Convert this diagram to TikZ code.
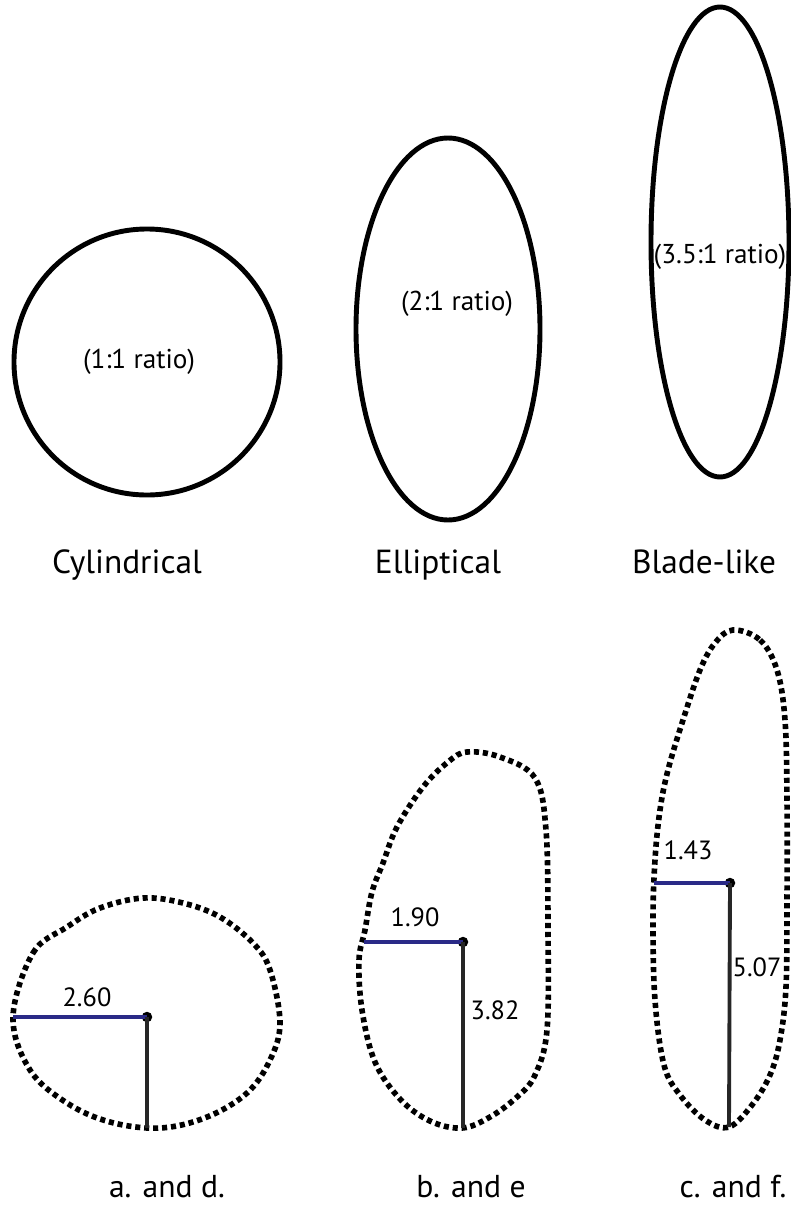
\documentclass[tikz,border=0pt]{standalone}
\usepackage{fontspec}
\setmainfont{PT Sans}
\usepackage{xcolor}
\usetikzlibrary{arrows.meta,calc}

\definecolor{radblue}{RGB}{42,42,135}
\tikzset{
  outline/.style={line width=2.8pt},
  dotline/.style={line width=3.2pt, dash pattern=on 2.9pt off 2.2pt},
  radius line/.style={radblue, line width=2pt},
  axis line/.style={black!85, line width=2.2pt},
  centre/.style={circle, fill=black, inner sep=0pt, minimum size=2.1mm},
  ratio/.style={font=\fontsize{15.5}{18}\selectfont, inner sep=1pt},
  shape name/.style={font=\fontsize{19}{22}\selectfont, anchor=base},
  case name/.style={font=\fontsize{18}{21}\selectfont, anchor=base, inner sep=0pt},
  value/.style={font=\fontsize{15}{17}\selectfont, inner sep=1pt}
}

\begin{document}
\begin{tikzpicture}[x=0.2mm, y=-0.2mm]
\useasboundingbox (0,0) rectangle (790,1205);

% cross-sections
\draw[outline] (147,362) circle [radius=133];
\draw[outline] (448,329) ellipse [x radius=92, y radius=191];
\draw[outline] (720,242) ellipse [x radius=69, y radius=235];
\node[ratio] (r1) at (139,362) {(1:1 ratio)};
\node[ratio] (r2) at (457,304) {(2:1 ratio)};
\node[ratio] (r3) at (720,257) {(3.5:1 ratio)};

\node[shape name] (cyl) at (127,573) {Cylindrical};
\node[shape name] (ell) at (438,573) {Elliptical};
\node[shape name] (bla) at (704,573) {Blade-like};

% (a)
\draw[dotline] plot[smooth cycle, tension=0.6] coordinates {
  (13,1017) (33,953) (67,927) (100,908) (143,898) (183,903) (220,917)
  (253,943) (270,970) (280,1023) (270,1060) (247,1093) (207,1117)
  (160,1128) (110,1122) (67,1103) (30,1070)};
\node[centre] (ca) at (147,1017) {};
\coordinate (la) at (13,1017);
\coordinate (ba) at (147,1128);
\draw[radius line] (la) -- (ca.center);
\draw[axis line] (ca.center) -- (ba);
\node[value] (va) at (87,997) {2.60};

% (b)
\draw[dotline] plot[smooth cycle, tension=0.6] coordinates {
  (467,752) (500,757) (535,778) (546,830) (548,930) (547,1030)
  (535,1075) (517,1097) (490,1117) (462,1128) (430,1121) (400,1099)
  (375,1062) (362,1010) (359,960) (365,930) (372,892) (383,863)
  (397,827) (423,787) (448,762)};
\node[centre] (cb) at (463,942) {};
\coordinate (lb) at (364,942);
\coordinate (bb) at (463,1128);
\draw[radius line] (lb) -- (cb.center);
\draw[axis line] (cb.center) -- (bb);
\node[value] (vb) at (415,917) {1.90};
\node[value] (hb) at (495,1010) {3.82};

% (c)
\draw[dotline] plot[smooth cycle, tension=0.6] coordinates {
  (733,630) (760,640) (777,670) (785,720) (787,800) (787,900)
  (786,987) (780,1040) (770,1075) (752,1105) (729,1127) (705,1120)
  (680,1095) (664,1065) (655,1000) (653,920) (655,860) (660,810)
  (668,770) (683,720) (700,670) (715,643)};
\node[centre] (cc) at (730,883) {};
\coordinate (lc) at (654,883);
\coordinate (bc) at (729,1127);
\draw[radius line] (lc) -- (cc.center);
\draw[axis line] (cc.center) -- (bc);
\node[value] (vc) at (688,850) {1.43};
\node[value] (hc) at (757,967) {5.07};

\node[case name] (na) at (167,1197) {a. and d.};
\node[case name] (nb) at (471,1197) {b. and e};
\node[case name] (nc) at (733,1197) {c. and f.};
\end{tikzpicture}
\end{document}
